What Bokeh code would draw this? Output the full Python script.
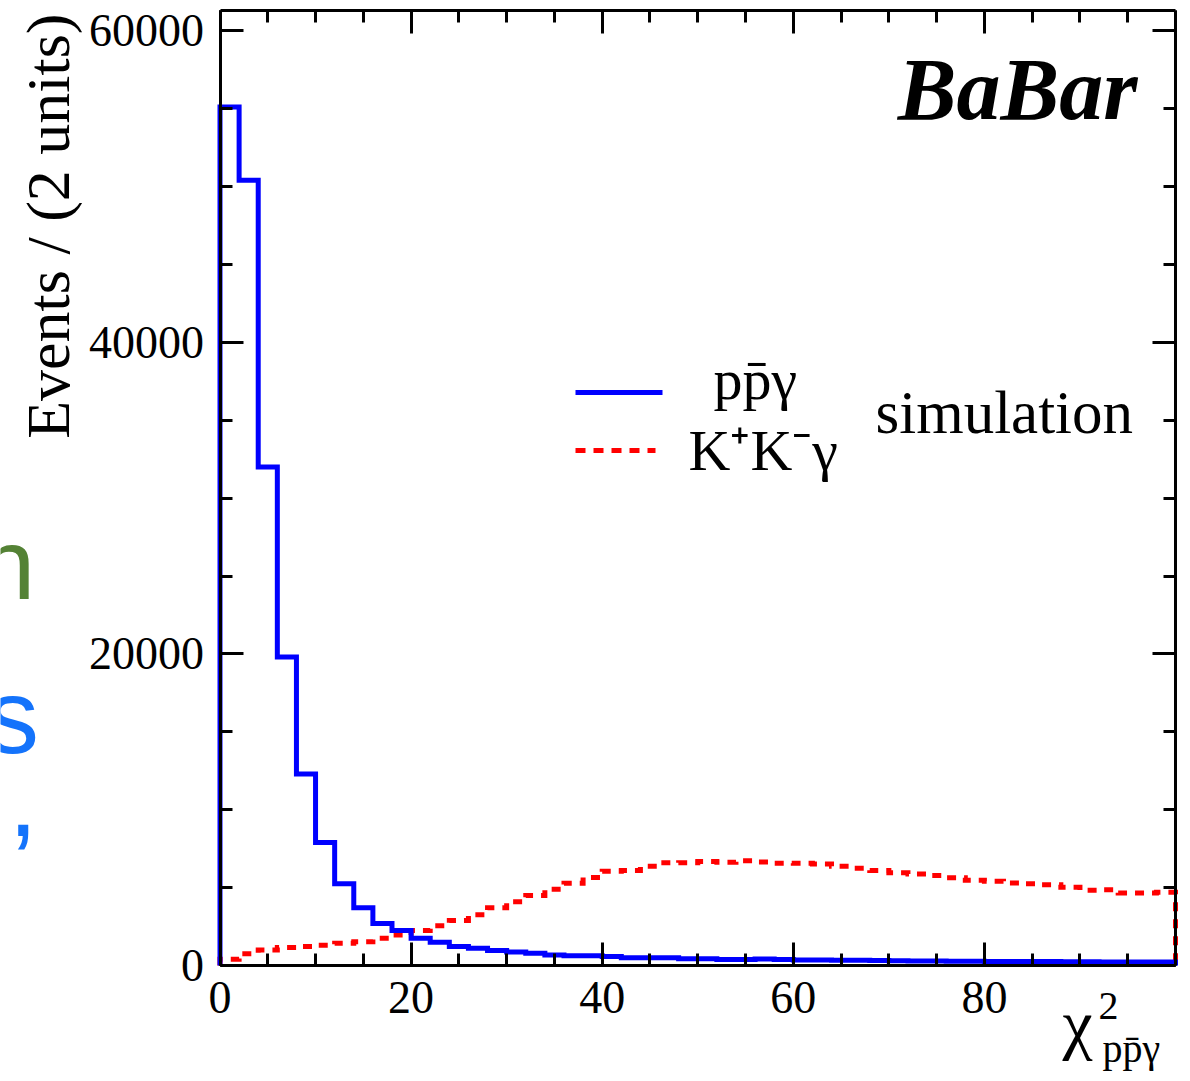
import numpy as np
from math import pi
from bokeh.plotting import figure
from bokeh.models import Range1d, FixedTicker, LinearAxis, Label
from bokeh.embed import file_html
from bokeh.resources import INLINE

# ---------------- data ----------------
bin_edges = np.arange(0, 101, 2)          # 50 bins of 2 units, chi2 from 0 to 100
ppg_counts = [55100, 50400, 32000, 19800, 12300, 7900, 5250, 3700, 2700, 2250,
              1750, 1500, 1220, 1110, 960, 860, 790, 670, 620, 620,
              580, 500, 490, 490, 430, 430, 390, 390, 420, 380,
              360, 360, 340, 330, 320, 300, 290, 290, 280, 270,
              260, 260, 250, 250, 240, 240, 230, 230, 220, 220]
kkg_counts = [400, 750, 1000, 1150, 1220, 1300, 1430, 1530, 1750, 1950,
              2250, 2550, 2890, 3250, 3700, 4100, 4490, 4900, 5280, 5650,
              6050, 6100, 6370, 6590, 6600, 6670, 6630, 6720, 6650, 6570,
              6560, 6520, 6370, 6250, 6090, 5950, 5880, 5770, 5630, 5480,
              5410, 5300, 5240, 5180, 5020, 4830, 4860, 4660, 4660, 4700]
x_major_ticks = [0, 20, 40, 60, 80]
x_minor_ticks = list(range(0, 101, 5))
y_major_ticks = [0, 20000, 40000, 60000]
y_minor_ticks = list(range(0, 61000, 5000))
legend_labels = ["pp\u0304\u03b3", "K\u207aK\u207b\u03b3"]

X_MIN, X_MAX = 0, 100
Y_MIN, Y_MAX = 0, 61300

# ---------------- layout (page pixels) ----------------
W, H = 1182, 1073
PX_X0, PX_X1 = 219.5, 1175.0     # where X_MIN / X_MAX fall
PX_Y0, PX_Y1 = 965.0, 10.0       # where Y_MIN / Y_MAX fall
SERIF = "Liberation Serif"
SANS = "Liberation Sans"
BASE_SHIFT = 0.37   # measured offset of the alphabetic baseline, in em


def xd(px):
    return X_MIN + (px - PX_X0) / (PX_X1 - PX_X0) * (X_MAX - X_MIN)


def yd(py):
    return Y_MIN + (PX_Y0 - py) / (PX_Y0 - PX_Y1) * (Y_MAX - Y_MIN)


def step_path(edges, counts):
    xs = np.repeat(edges, 2)
    ys = np.concatenate([[0], np.repeat(counts, 2), [0]])
    return xs, ys


# the frame fills the whole canvas; the ROOT-style box is drawn by four fixed axes
p = figure(width=W, height=H, x_range=Range1d(xd(0), xd(W)), y_range=Range1d(yd(H), yd(0)),
           output_backend="svg", toolbar_location=None,
           min_border_left=0, min_border_right=0, min_border_top=0, min_border_bottom=0,
           x_axis_type=None, y_axis_type=None)
p.xgrid.visible = False
p.ygrid.visible = False
p.outline_line_color = None
p.background_fill_color = "white"
p.border_fill_color = "white"


def make_axis(ticks, minor, bounds, location, labels=True):
    ax = LinearAxis(ticker=FixedTicker(ticks=ticks, minor_ticks=minor), bounds=bounds,
                    fixed_location=location)
    ax.axis_line_width = 3
    ax.axis_line_color = "black"
    ax.major_tick_in = 23
    ax.major_tick_out = 0
    ax.minor_tick_in = 12
    ax.minor_tick_out = 0
    ax.major_tick_line_width = 3
    ax.minor_tick_line_width = 3
    ax.major_tick_line_color = "black"
    ax.minor_tick_line_color = "black"
    if labels:
        ax.major_label_text_font = SERIF
        ax.major_label_text_font_size = "46px"
        ax.major_label_text_color = "black"
        ax.major_label_standoff = 16
    else:
        ax.major_label_text_font_size = "0px"
        ax.major_label_text_color = None
        ax.major_label_standoff = 0
    return ax


p.add_layout(make_axis(x_major_ticks, x_minor_ticks, (X_MIN, X_MAX), Y_MIN), "below")
p.add_layout(make_axis(y_major_ticks, y_minor_ticks, (Y_MIN, Y_MAX), X_MIN), "left")
p.add_layout(make_axis(x_major_ticks, x_minor_ticks, (X_MIN, X_MAX), Y_MAX, labels=False), "above")
p.add_layout(make_axis(y_major_ticks, y_minor_ticks, (Y_MIN, Y_MAX), X_MAX, labels=False), "right")


def text_at(px, py, text, size, font=SERIF, color="black", align="left", angle=0.0, style="normal"):
    """Place a text by the page position of its baseline start."""
    if angle == 0.0:
        sxp, syp = px, py - BASE_SHIFT * size
    else:
        sxp, syp = px - BASE_SHIFT * size, py
    p.add_layout(Label(x=xd(sxp), y=yd(syp), text=text,
                       text_font=font, text_font_size=f"{size}px", text_color=color,
                       text_align=align, text_baseline="alphabetic", angle=angle,
                       text_font_style=style))


# ---------------- histograms ----------------
kx, ky = step_path(bin_edges, kkg_counts)
p.line(kx, ky, line_color="#ff0000", line_width=5, line_dash="9 8", line_join="miter")
bx, by = step_path(bin_edges, ppg_counts)
p.line(bx, by, line_color="#0000ff", line_width=5, line_join="miter")

# ---------------- legend (ROOT style) ----------------
p.segment(x0=[xd(575)], y0=[yd(392)], x1=[xd(662)], y1=[yd(392)], line_color="#0000ff", line_width=5)
p.segment(x0=[xd(575)], y0=[yd(450)], x1=[xd(655)], y1=[yd(450)], line_color="#ff0000", line_width=5,
          line_dash="10 8")
text_at(713, 400, legend_labels[0], 58)
text_at(688, 471, legend_labels[1], 58)
text_at(875, 435, "simulation", 61)
text_at(1137, 122, "BaBar", 88, align="right", style="bold italic")

# ---------------- axis titles ----------------
text_at(70, 13, "Events / (2 units)", 62, align="right", angle=pi / 2)
text_at(1062, 1049, "\u03c7", 68)
text_at(1098, 1020, "2", 40)
text_at(1102, 1063, "pp\u0304\u03b3", 40)

# ---------------- fragments of neighbouring slide text ----------------
text_at(-21, 600, "n", 100, font=SANS, color="#548235")
text_at(-14, 755, "s", 105, font=SANS, color="#1473fb")
text_at(8, 838, ",", 105, font=SANS, color="#1473fb")

open("out.html", "w").write(file_html(p, INLINE))
